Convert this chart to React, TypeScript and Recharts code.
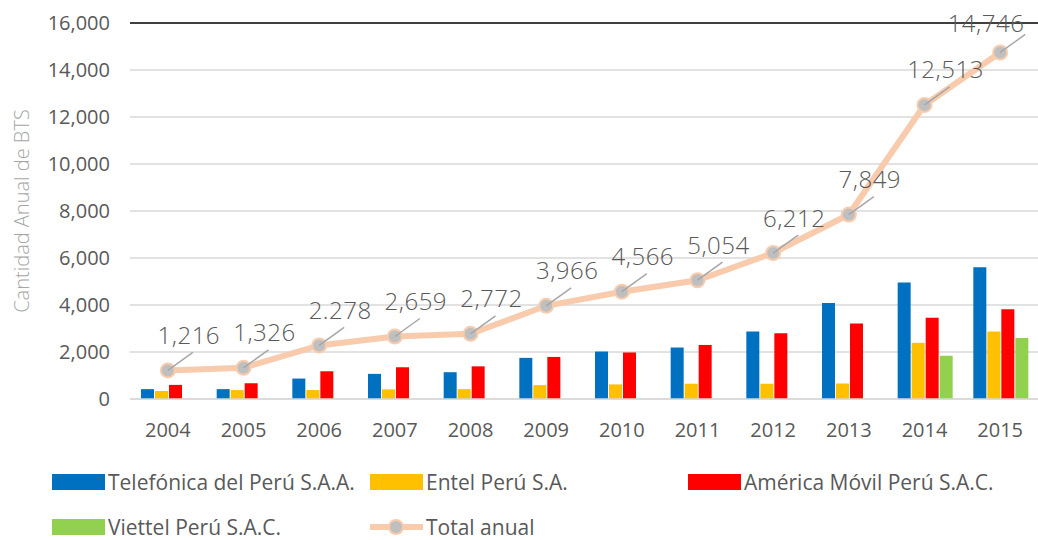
import React from 'react'
import {
  ComposedChart,
  Bar,
  Line,
  XAxis,
  YAxis,
  CartesianGrid,
  ReferenceLine,
  LabelList,
} from 'recharts'

const years = ['2004', '2005', '2006', '2007', '2008', '2009', '2010', '2011', '2012', '2013', '2014', '2015']
const telefonica = [420, 420, 870, 1070, 1140, 1750, 2020, 2190, 2870, 4080, 4960, 5610]
const entel = [340, 380, 380, 410, 420, 590, 620, 650, 650, 660, 2390, 2870]
const america = [600, 670, 1180, 1350, 1390, 1790, 1980, 2300, 2800, 3210, 3460, 3820]
const viettel = [null, null, null, null, null, null, null, null, null, null, 1840, 2600]
const totalAnual = [1216, 1326, 2278, 2659, 2772, 3966, 4566, 5054, 6212, 7849, 12513, 14746]
const totalLabels = ['1,216', '1,326', '2.278', '2,659', '2,772', '3,966', '4,566', '5,054', '6,212', '7,849', '12,513', '14,746']
const yTicks = [0, 2000, 4000, 6000, 8000, 10000, 12000, 14000, 16000]

const COLORS = {
  telefonica: '#0070C0',
  entel: '#FFC000',
  america: '#FF0000',
  viettel: '#92D050',
  total: '#F8CBAD',
  dot: '#BFBFBF',
}

const FONT = '"Open Sans", "Noto Sans", sans-serif'
const TEXT = '#595959'
const CHART_W = 1038

const data = years.map((year, i) => ({
  year,
  telefonica: telefonica[i],
  entel: entel[i],
  america: america[i],
  viettel: viettel[i],
  total: totalAnual[i],
}))

const fmt = (v: number) => v.toLocaleString('en-US')

const TotalLabel = (props: any) => {
  const { x, y, index } = props
  // keep the last label inside the frame, like Excel does
  const lx = Math.min(x + 21, CHART_W - 52)
  const ly = y - 36 > 20 ? y - 36 : 22
  return (
    <g>
      <line x1={x} y1={y} x2={x + 25} y2={y - 18} stroke="#A6A6A6" strokeWidth={1.5} />
      <text
        x={lx}
        y={ly}
        textAnchor="middle"
        dominantBaseline="central"
        fill={TEXT}
        fontSize={24}
        fontWeight={300}
        fontFamily={FONT}
        letterSpacing={0.5}
      >
        {totalLabels[index]}
      </text>
    </g>
  )
}

const YTitle = (props: any) => {
  const { viewBox } = props
  const cx = viewBox.x + 21
  const cy = viewBox.y + viewBox.height / 2
  return (
    <text
      x={cx}
      y={cy}
      transform={`rotate(-90 ${cx} ${cy})`}
      textAnchor="middle"
      dominantBaseline="central"
      fill="#A6A6A6"
      fontSize={20}
      fontWeight={300}
      fontFamily={FONT}
    >
      Cantidad Anual de BTS
    </text>
  )
}

const legendItems = [
  { name: 'Telefónica del Perú S.A.A.', color: COLORS.telefonica, type: 'bar' },
  { name: 'Entel Perú S.A.', color: COLORS.entel, type: 'bar' },
  { name: 'América Móvil Perú S.A.C.', color: COLORS.america, type: 'bar' },
  { name: 'Viettel Perú S.A.C.', color: COLORS.viettel, type: 'bar' },
  { name: 'Total anual', color: COLORS.total, type: 'line' },
]

function LegendBox() {
  return (
    <div style={{ position: 'absolute', left: 52, top: 468, width: 980 }}>
      {legendItems.map((item, i) => (
        <div
          key={item.name}
          style={{
            position: 'absolute',
            left: (i % 3) * 318,
            top: Math.floor(i / 3) * 45,
            height: 28,
            display: 'flex',
            alignItems: 'center',
            fontFamily: FONT,
            fontSize: 21,
            color: TEXT,
            whiteSpace: 'nowrap',
          }}
        >
          <svg width={56} height={24} style={{ display: 'block' }}>
            {item.type === 'bar' ? (
              <rect x={0} y={4} width={53} height={16} fill={item.color} />
            ) : (
              <g>
                <line x1={0} y1={12} x2={53} y2={12} stroke={item.color} strokeWidth={6} />
                <circle cx={26} cy={12} r={7} fill={COLORS.dot} stroke={item.color} strokeWidth={2} />
              </g>
            )}
          </svg>
          <span>{item.name}</span>
        </div>
      ))}
    </div>
  )
}

export default function App() {
  return (
    <div style={{ position: 'absolute', left: 0, top: 0, width: CHART_W, height: 540, background: '#fff' }}>
      <ComposedChart
        width={CHART_W}
        height={540}
        data={data}
        margin={{ top: 23, right: 0, bottom: 101, left: 0 }}
        barCategoryGap={11}
        barGap={1}
      >
        <CartesianGrid vertical={false} stroke="#D9D9D9" strokeWidth={1.5} />
        <XAxis
          dataKey="year"
          axisLine={{ stroke: '#D9D9D9', strokeWidth: 1.5 }}
          tickLine={false}
          tickMargin={18}
          height={40}
          tick={{ fill: TEXT, fontSize: 20, fontFamily: FONT }}
        />
        <YAxis
          width={130}
          domain={[0, 16000]}
          ticks={yTicks}
          tickFormatter={fmt}
          axisLine={false}
          tickLine={false}
          tickMargin={14}
          tick={{ fill: TEXT, fontSize: 20, fontFamily: FONT }}
          label={<YTitle />}
        />
        <ReferenceLine y={16000} stroke="#404040" strokeWidth={2} />
        <Bar dataKey="telefonica" fill={COLORS.telefonica} isAnimationActive={false} />
        <Bar dataKey="entel" fill={COLORS.entel} isAnimationActive={false} />
        <Bar dataKey="america" fill={COLORS.america} isAnimationActive={false} />
        <Bar dataKey="viettel" fill={COLORS.viettel} isAnimationActive={false} />
        <Line
          dataKey="total"
          stroke={COLORS.total}
          strokeWidth={6}
          dot={{ r: 7, fill: COLORS.dot, stroke: COLORS.total, strokeWidth: 2 }}
          isAnimationActive={false}
        >
          <LabelList dataKey="total" content={<TotalLabel />} />
        </Line>
      </ComposedChart>
      <LegendBox />
    </div>
  )
}
